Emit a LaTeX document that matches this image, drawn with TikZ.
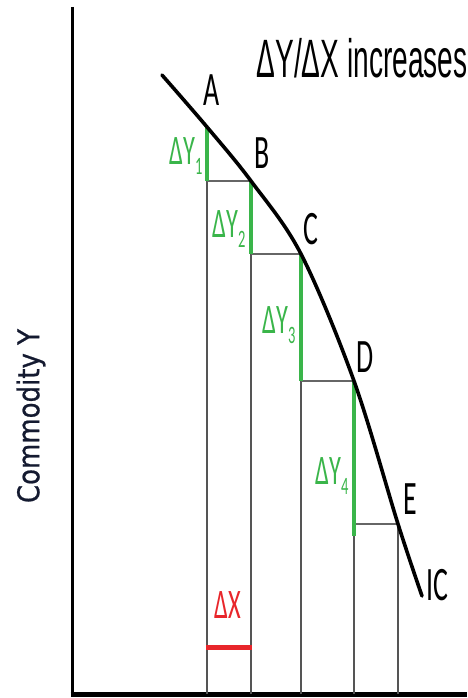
\documentclass[tikz,border=0pt]{standalone}
\usepackage{fontspec}
\setmainfont{Carlito}
\newfontfamily\titlefont{Liberation Sans}
\newfontfamily\axisfont[FakeBold=0.8]{DejaVu Sans}
\definecolor{grn}{HTML}{3AB54A}
\definecolor{redx}{HTML}{E8262B}
\definecolor{guidegray}{HTML}{555555}
\definecolor{navy}{HTML}{141A30}
\newcommand{\sub}[1]{\raisebox{-0.25em}{\fontsize{25}{25}\selectfont #1}}
\begin{document}
\begin{tikzpicture}[x=1pt,y=-1pt,
  curveline/.style={line width=3.6pt,black,line cap=round},
  axisline/.style={black},
  guide/.style={line width=1.1pt,draw=guidegray},
  shelf/.style={line width=2.6pt,draw=black!60},
  dyline/.style={line width=3.4pt,draw=grn},
  ptlab/.style={inner sep=0pt,font=\fontsize{48}{48}\selectfont,xscale=0.58},
  dylab/.style={inner sep=0pt,text=grn,font=\fontsize{42}{42}\selectfont,xscale=0.58}]
\useasboundingbox (0,0) rectangle (467,698);
% origin and axes
\coordinate (O) at (72,694);
\coordinate (Ytop) at (72,7);
\coordinate (Xend) at (467,694);
\draw[axisline,line width=3pt] (Ytop) -- (O);
\draw[axisline,line width=5pt] ([xshift=-1.5pt]O) -- (Xend);
% curve points
\coordinate (S) at (162,75);
\coordinate (A) at (207,127);
\coordinate (B) at (251,181);
\coordinate (C) at (301,254);
\coordinate (D) at (354,381);
\coordinate (E) at (398,524);
\coordinate (T) at (422,596);
\coordinate (D4) at (354,536);
% thin verticals
\draw[guide] (A|-B) -- (A|-O);
\draw[guide] (B|-C) -- (B|-O);
\draw[guide] (C|-D) -- (C|-O);
\draw[guide] (D4) -- (D|-O);
\draw[guide] (E) -- (E|-O);
% horizontal steps
\draw[shelf] (A|-B) -- (B);
\draw[shelf] (B|-C) -- (C);
\draw[shelf] (C|-D) -- (D);
\draw[shelf] (D|-E) -- (E);
% green delta Y segments
\draw[dyline] (A) -- (A|-B);
\draw[dyline] (B) -- (B|-C);
\draw[dyline] (C) -- (C|-D);
\draw[dyline] (D) -- (D4);
% curve
\draw[curveline] plot[smooth,tension=0.55] coordinates {(S) (A) (B) (C) (D) (E) (T)};
% delta X
\coordinate (X1) at (206,647);
\coordinate (X2) at (252,647);
\draw[redx,line width=5pt] (X1) -- (X2);
\node[inner sep=0pt,text=redx,font=\fontsize{42}{42}\selectfont,xscale=0.58] (dx) at (228,605) {ΔX};
% point labels
\node[ptlab] (lA) at (212,90) {A};
\node[ptlab] (lB) at (262,153) {B};
\node[ptlab] (lC) at (311,229) {C};
\node[ptlab] (lD) at (365,357) {D};
\node[ptlab] (lE) at (410,499) {E};
\node[ptlab] (lIC) at (437,585) {IC};
% delta Y labels
\node[dylab] (l1) at (186,156) {ΔY\sub{1}};
\node[dylab] (l2) at (229,229) {ΔY\sub{2}};
\node[dylab] (l3) at (279,325) {ΔY\sub{3}};
\node[dylab] (l4) at (332,476) {ΔY\sub{4}};
% title
\node[inner sep=0pt,font=\titlefont\fontsize{54}{54}\selectfont,xscale=0.52] (title) at (362,58) {ΔY/ΔX increases};
% axis label
\node[inner sep=0pt,font=\axisfont\fontsize{26}{26}\selectfont,rotate=90,yscale=1.15,text=navy] (ylab) at (31,416) {Commodity Y};
\end{tikzpicture}
\end{document}
